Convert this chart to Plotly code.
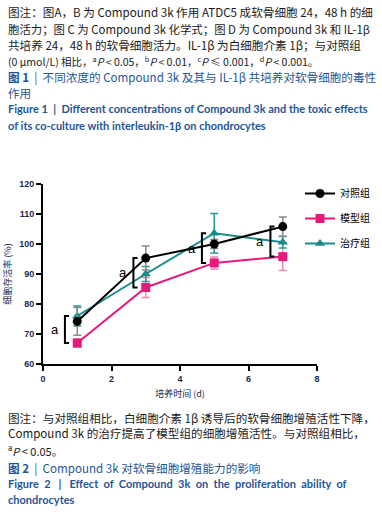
import plotly.graph_objects as go

# ---- data ----
days = [1, 3, 5, 7]
control = [74.2, 95.3, 100.0, 105.8]
control_err = [4.6, 4.0, 1.5, 3.2]
model = [67.0, 85.5, 93.7, 95.8]
model_err = [1.3, 3.3, 2.0, 4.6]
treat = [76.0, 90.0, 103.6, 100.6]
treat_err = [3.3, 2.5, 6.6, 1.9]
sig_labels = ["a", "a", "a", "a"]
group_names = ["对照组", "模型组", "治疗组"]
x_ticks = [0, 2, 4, 6, 8]
y_ticks = [60, 70, 80, 90, 100, 110, 120]

W, H = 382, 516
L, R, T, B = 43, 65, 184, 152
PW, PH = W - L - R, H - T - B

def px(x):
    return (x - L) / PW

def py(y):
    return (H - B - y) / PH

BLACK = "#000000"
PINK = "#e8197a"
TEAL = "#1b8c8c"
NAVY = "#1b2a4e"
BLUE = "#1f5597"
TXT = "#1a1a1a"
CJK = "Noto Sans CJK SC"
LAT = "Lato"

fig = go.Figure()

series = [
    (group_names[1], model, model_err, PINK, "#ec86b4", "square", 2),
    (group_names[2], treat, treat_err, TEAL, "#2a9696", "triangle-up", 3),
    (group_names[0], control, control_err, BLACK, "#8a8a8a", "circle", 1),
]
for name, vals, errs, col, ecol, sym, rank in series:
    fig.add_trace(go.Scatter(
        x=days, y=vals, name=name, mode="lines+markers",
        line=dict(color=col, width=2),
        marker=dict(symbol=sym, size=9, color=col),
        error_y=dict(type="data", array=errs, visible=True, color=ecol,
                     thickness=1.5, width=4),
        legendrank=rank, legendgroup=name,
    ))

# significance brackets
for d, c, m, t, lab in zip(days, control, model, treat, sig_labels):
    lo, hi = min(c, m, t), max(c, m, t)
    xv, xa = d - 0.36, d - 0.24
    fig.add_shape(type="path",
                  path=f"M {xa} {hi} L {xv} {hi} L {xv} {lo} L {xa} {lo}",
                  xref="x", yref="y", line=dict(color=BLACK, width=2))
    fig.add_annotation(x=d - 0.65, y=(lo + hi) / 2, text=lab, showarrow=False,
                       xref="x", yref="y",
                       font=dict(family="Liberation Sans, Arial", size=13, color=BLACK))

# caption text: (y pixel, text, colour, font family, size)
top_lines = [
    (12, "图注：图A，B 为 Compound 3k 作用 ATDC5 成软骨细胞 24，48 h 的细", TXT, CJK, 11.6),
    (29, "胞活力；图 C 为 Compound 3k 化学式；图 D 为 Compound 3k 和 IL-1β", TXT, CJK, 11.4),
    (45, "共培养 24，48 h 的软骨细胞活力。IL-1β 为白细胞介素 1β；与对照组", TXT, CJK, 11.6),
    (61, "(0 μmol/L) 相比，<sup>a</sup><i>P</i> < 0.05，<sup>b</sup><i>P</i> < 0.01，<sup>c</sup><i>P</i> ≤ 0.001，<sup>d</sup><i>P</i> < 0.001。", TXT, CJK, 10.5),
    (77, "<b>图 1</b>  |  不同浓度的 Compound 3k 及其与 IL-1β 共培养对软骨细胞的毒性", BLUE, CJK, 11.6),
    (93, "作用", BLUE, CJK, 11.6),
    (109, "<b>Figure 1  |  Different concentrations of Compound 3k and the toxic effects</b>", BLUE, LAT, 11),
    (125, "<b>of its co-culture with interleukin-1β on chondrocytes</b>", BLUE, LAT, 11),
]
bottom_lines = [
    (418, "图注：与对照组相比，白细胞介素 1β 诱导后的软骨细胞增殖活性下降，", TXT, CJK, 11.6),
    (433, "Compound 3k 的治疗提高了模型组的细胞增殖活性。与对照组相比，", TXT, CJK, 11.6),
    (450, "<sup>a</sup><i>P</i> < 0.05。", TXT, CJK, 11),
    (468, "<b>图 2</b>  |  Compound 3k 对软骨细胞增殖能力的影响", BLUE, CJK, 11.6),
    (483, "<b>Figure  2   |   Effect  of  Compound  3k  on  the  proliferation  ability  of</b>", BLUE, LAT, 11),
    (499, "<b>chondrocytes</b>", BLUE, LAT, 11),
]
for yy, txt, col, fam, sz in top_lines + bottom_lines:
    fig.add_annotation(x=px(6), y=py(yy), xref="paper", yref="paper",
                       text=txt, showarrow=False, xanchor="left", yanchor="middle",
                       font=dict(family=fam, size=sz, color=col))

axis_common = dict(
    showline=True, linecolor=BLACK, linewidth=2, mirror=False,
    ticks="outside", ticklen=5, tickwidth=2, tickcolor=BLACK,
    showgrid=False, zeroline=False,
    tickfont=dict(family="Liberation Sans, Arial", size=9, color=NAVY, weight="bold"),
)
fig.update_xaxes(range=[0, 8], tickvals=x_ticks, **axis_common,
                 title=dict(text="培养时间 (d)", standoff=8,
                            font=dict(family=CJK, size=9, color=NAVY)))
fig.update_yaxes(range=[60, 120], tickvals=y_ticks, **axis_common,
                 title=dict(text="细胞存活率 (%)", standoff=6,
                            font=dict(family=CJK, size=9, color=NAVY)))

fig.update_layout(
    width=W, height=H,
    margin=dict(l=L, r=R, t=T, b=B, autoexpand=False),
    paper_bgcolor="white", plot_bgcolor="white",
    showlegend=True,
    legend=dict(x=px(300), y=py(179), xanchor="left", yanchor="top",
                font=dict(family=CJK, size=10, color=BLACK),
                bgcolor="rgba(0,0,0,0)", tracegroupgap=6, traceorder="grouped"),
)

fig.write_html("out.html", config={"displayModeBar": False},
               post_script="document.body.style.margin='0';document.body.style.overflow='hidden';")
